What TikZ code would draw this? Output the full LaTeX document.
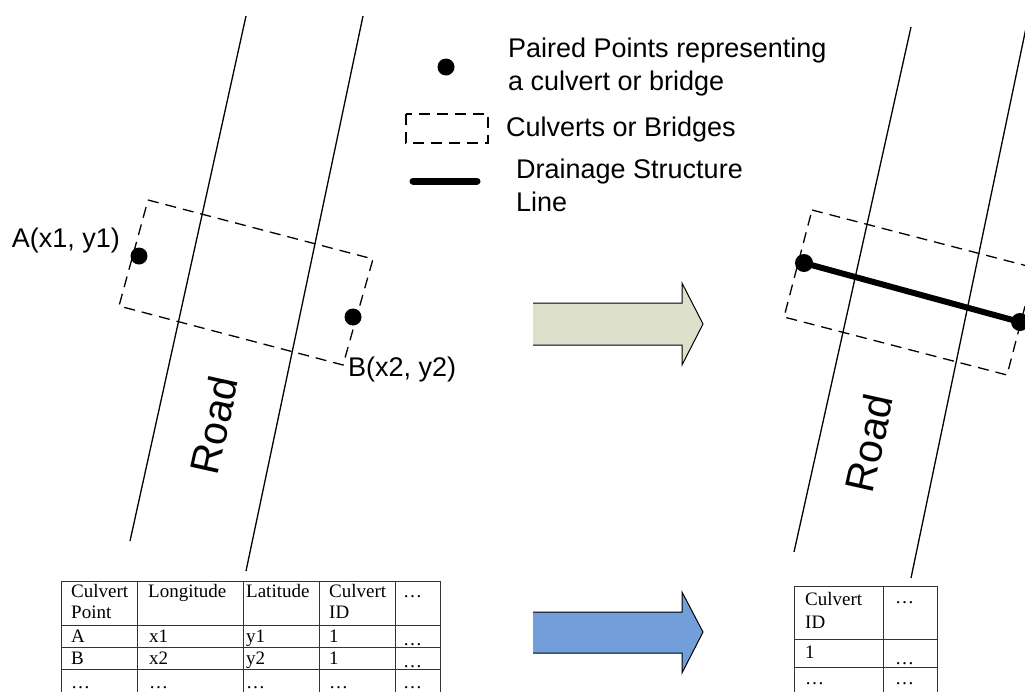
\documentclass[tikz,border=0pt]{standalone}
\usepackage{fontspec}
\setmainfont{Liberation Sans}
\newfontfamily\tabfont{Liberation Serif}
\begin{document}
\begin{tikzpicture}[x=1pt,y=-1pt,
  roadline/.style={line width=1.3pt},
  dashbox/.style={line width=1.3pt, dash pattern=on 11pt off 7pt},
  dot/.style={circle, fill=black, inner sep=0pt, minimum size=17pt},
  lbl/.style={font=\fontsize{27}{32.5}\selectfont, inner sep=0pt, align=left},
  roadlbl/.style={font=\fontsize{41}{45}\selectfont, inner sep=0pt, rotate=77.5},
  tab/.style={font=\tabfont\fontsize{19}{21}\selectfont, inner sep=0pt, anchor=base west},
  grid/.style={line width=1pt, draw=black!80},
  bigarrow/.style={line width=1pt, line join=miter}
]
\useasboundingbox (0,0) rectangle (1025,691);
\clip (0,0) rectangle (1025,691);

% ---------- left road ----------
\coordinate (l1t) at (246,16); \coordinate (l1b) at (130,541);
\coordinate (l2t) at (363,16); \coordinate (l2b) at (246,571);
\draw[roadline] (l1t) -- (l1b);
\draw[roadline] (l2t) -- (l2b);
\draw[dashbox] (148,200) -- (373,259) -- (343,365) -- (119,306) -- cycle;
\node[dot] (A) at (139,256) {};
\node[dot] (B) at (353,317) {};
\node[lbl, anchor=east] (Alab) at (120,241) {A(x1, y1)};
\node[lbl, anchor=west] (Blab) at (348,370) {B(x2, y2)};
\node[roadlbl] (road1) at (214,425) {Road};

% ---------- legend ----------
\node[dot] (ldot) at (446,67) {};
\node[lbl, anchor=north west] (t1) at (508,38) {Paired Points representing\\a culvert or bridge};
\draw[dashbox] (406,114) rectangle (488,143);
\node[lbl, anchor=west] (t2) at (506,130) {Culverts or Bridges};
\coordinate (ll1) at (413,181); \coordinate (ll2) at (477,181);
\draw[line width=7pt, line cap=round] (ll1) -- (ll2);
\node[lbl, anchor=north west] (t3) at (516,159) {Drainage Structure\\Line};

% ---------- right road ----------
\coordinate (r1t) at (911,27); \coordinate (r1b) at (794,552);
\coordinate (r2t) at (1031,4); \coordinate (r2b) at (911,578);
\draw[roadline] (r1t) -- (r1b);
\draw[roadline] (r2t) -- (r2b);
\draw[dashbox] (812,210) -- (1035,268) -- (1007,375) -- (784,317) -- cycle;
\node[dot, minimum size=18pt] (C) at (804,263) {};
\node[dot, minimum size=18pt] (D) at (1020,322) {};
\draw[line width=6pt] (C.center) -- (D.center);
\node[roadlbl] (road2) at (869,443) {Road};

% ---------- arrows ----------
\fill[fill={rgb,255:red,221;green,225;blue,204}] (533,303) -- (682,303) -- (682,283) -- (703,324) -- (682,365) -- (682,345) -- (533,345) -- cycle;
\draw[bigarrow] (533,303) -- (682,303) -- (682,283) -- (703,324) -- (682,365) -- (682,345) -- (533,345);
\fill[fill={rgb,255:red,114;green,159;blue,217}] (533,612) -- (682,612) -- (682,592) -- (703,632) -- (682,673) -- (682,653) -- (533,653) -- cycle;
\draw[bigarrow] (533,612) -- (682,612) -- (682,592) -- (703,632) -- (682,673) -- (682,653) -- (533,653);

% ---------- left table ----------
\draw[grid] (61,700) -- (61,581) -- (440,581) -- (440,700);
\foreach \x in {137,243,319,395} \draw[grid] (\x,581) -- (\x,700);
\foreach \y in {625,647,669} \draw[grid] (61,\y) -- (440,\y);
\node[tab] (h1) at (71,597) {Culvert};
\node[tab] (h1b) at (71,618) {Point};
\node[tab] (h2) at (148,597) {Longitude};
\node[tab] (h3) at (246,597) {Latitude};
\node[tab] (h4) at (329,597) {Culvert};
\node[tab] (h4b) at (329,618) {ID};
\node[tab] (h5) at (403,597) {…};
\node[tab] (a1) at (71,642) {A};
\node[tab] (a2) at (149,642) {x1};
\node[tab] (a3) at (246,642) {y1};
\node[tab] (a4) at (329,642) {1};
\node[tab] (a5) at (403,645) {…};
\node[tab] (b1) at (71,664) {B};
\node[tab] (b2) at (149,664) {x2};
\node[tab] (b3) at (246,664) {y2};
\node[tab] (b4) at (329,664) {1};
\node[tab] (b5) at (403,667) {…};
\node[tab] (c1) at (71,688) {…};
\node[tab] (c2) at (149,688) {…};
\node[tab] (c3) at (246,688) {…};
\node[tab] (c4) at (329,688) {…};
\node[tab] (c5) at (403,688) {…};

% ---------- right table ----------
\draw[grid] (794,700) -- (794,586) -- (937,586) -- (937,700);
\draw[grid] (883,586) -- (883,700);
\foreach \y in {639,667} \draw[grid] (794,\y) -- (937,\y);
\node[tab] (rh1) at (805,605) {Culvert};
\node[tab] (rh1b) at (805,628) {ID};
\node[tab] (rh2) at (895,603) {…};
\node[tab] (r11) at (805,658) {1};
\node[tab] (r12) at (895,664) {…};
\node[tab] (r21) at (805,684) {…};
\node[tab] (r22) at (895,684) {…};
\end{tikzpicture}
\end{document}
